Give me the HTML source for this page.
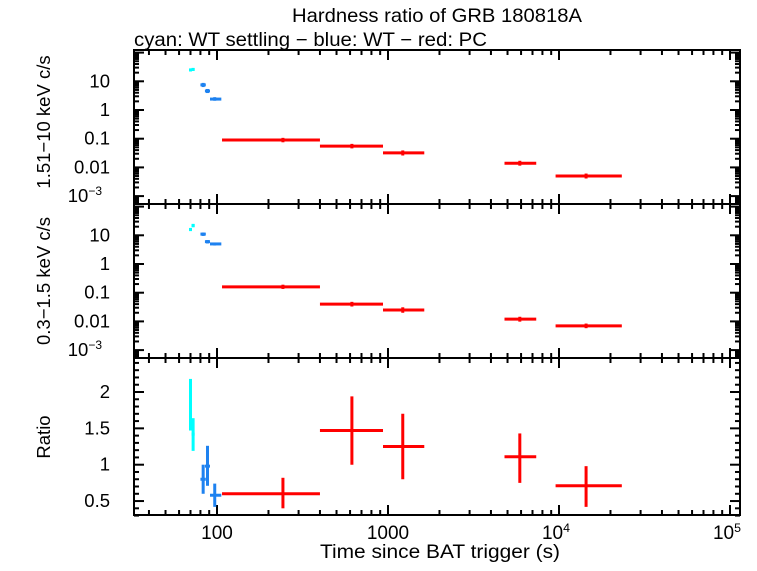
<!DOCTYPE html>
<html><head><meta charset="utf-8"><style>
html,body{margin:0;padding:0;background:#fff;}
svg text{font-family:"Liberation Sans",sans-serif;fill:#000;}
</style></head><body>
<svg id="c" width="757" height="566" xmlns="http://www.w3.org/2000/svg">
<text x="437" y="22" font-size="19.5" text-anchor="middle" textLength="290" lengthAdjust="spacingAndGlyphs">Hardness ratio of GRB 180818A</text>
<text x="134" y="46" font-size="19" textLength="353" lengthAdjust="spacingAndGlyphs">cyan: WT settling − blue: WT − red: PC</text>
<text x="440" y="558" font-size="19" text-anchor="middle" textLength="240" lengthAdjust="spacingAndGlyphs">Time since BAT trigger (s)</text>
<text transform="translate(50,122) rotate(-90)" font-size="18.5" text-anchor="middle">1.51−10 keV c/s</text>
<text transform="translate(50,281) rotate(-90)" font-size="18.5" text-anchor="middle">0.3−1.5 keV c/s</text>
<text transform="translate(50,437) rotate(-90)" font-size="18.5" text-anchor="middle">Ratio</text>
<g id="g"></g>
</svg>
<script>
// data: [t, tlo, thi, val, vlo, vhi, color]
const hardSeries=[[70,69,71,25,22,28,'c'],[72.5,71,74,26,23,29,'c'],[83,80,86,7.5,6.3,8.8,'b'],[88,85,91,4.6,3.9,5.4,'b'],[97,91,106,2.4,2.1,2.8,'b'],
 [243,107,400,0.09,0.075,0.107,'r'],[615,400,935,0.055,0.046,0.066,'r'],[1220,935,1630,0.032,0.026,0.039,'r'],[5900,4800,7360,0.014,0.0115,0.017,'r'],[14400,9550,23300,0.005,0.0041,0.0061,'r']];
const softSeries=[[70,69,71,16,14,18,'c'],[72.5,71,74,22,19,25,'c'],[83,80,86,11,9.5,12.5,'b'],[88,85,91,6,5.2,6.8,'b'],[97,91,106,5,4.4,5.6,'b'],
 [243,107,400,0.16,0.135,0.19,'r'],[615,400,935,0.04,0.033,0.048,'r'],[1220,935,1630,0.025,0.02,0.031,'r'],[5900,4800,7360,0.012,0.0098,0.0145,'r'],[14400,9550,23300,0.007,0.0058,0.0084,'r']];
const ratioSeries=[[70,69,71,1.83,1.47,2.18,'c'],[72.5,71,74,1.42,1.19,1.64,'c'],[83,80,86,0.8,0.6,1.0,'b'],[88,85,91,0.98,0.71,1.26,'b'],[97,91,106,0.58,0.42,0.74,'b'],
 [243,107,400,0.6,0.4,0.82,'r'],[615,400,935,1.47,1.0,1.94,'r'],[1220,935,1630,1.25,0.8,1.7,'r'],[5900,4800,7360,1.11,0.75,1.43,'r'],[14400,9550,23300,0.71,0.42,0.98,'r']];
const xTickBase=['100','1000','10','10'];
const xTickSup=['','','4','5'];
const logTickBase=['10','1','0.1','0.01','10'];
const logTickSup=['','','','','−3'];
const ratioTicks=[0.5,1,1.5,2];
const cols={c:'#00ffff',b:'#1e82f0',r:'#ff0000'};
const L=134,R=740;
const X=t=>217+(Math.log10(t)-2)*171;
const NS='http://www.w3.org/2000/svg';
const g=document.getElementById('g');
function el(tag,a,parent){const e=document.createElementNS(NS,tag);for(const k in a)e.setAttribute(k,a[k]);(parent||g).appendChild(e);return e;}
function label(x,y,base,sup,anchor,size){const tx=el('text',{x:x,y:y,'font-size':size,'text-anchor':anchor});
 tx.appendChild(document.createTextNode(base));
 if(sup){const ts=el('tspan',{dy:-7,'font-size':size*0.65},tx);ts.textContent=sup;}
 return tx;}
const panels=[
 {top:50,bot:204,Y:v=>110-Math.log10(v)*28.7,data:hardSeries,log:true,name:'hard'},
 {top:204,bot:358,Y:v=>264-Math.log10(v)*28.7,data:softSeries,log:true,name:'soft'},
 {top:358,bot:515,Y:v=>392-(v-2)*72.7,data:ratioSeries,log:false,name:'ratio'}];
panels.forEach((p,pi)=>{
 const fr=el('rect',{x:L,y:p.top,width:R-L,height:p.bot-p.top,fill:'none',stroke:'#000','stroke-width':2});
 
 
 for(let d=1;d<=5;d++)for(let m=1;m<10;m++){const t=m*Math.pow(10,d);const x=X(t);if(x<L||x>R)continue;const len=m==1?10:5;
  el('line',{x1:x,x2:x,y1:p.top,y2:p.top+len,stroke:'#000','stroke-width':2});
  el('line',{x1:x,x2:x,y1:p.bot,y2:p.bot-len,stroke:'#000','stroke-width':2});}
 if(p.log){for(let d=-4;d<=2;d++)for(let m=1;m<10;m++){const v=m*Math.pow(10,d);const y=p.Y(v);if(y<p.top||y>p.bot)continue;const len=m==1?10:5;
   el('line',{x1:L,x2:L+len,y1:y,y2:y,stroke:'#000','stroke-width':2});
   el('line',{x1:R,x2:R-len,y1:y,y2:y,stroke:'#000','stroke-width':2});}
  logTickBase.forEach((s,i)=>{const tx=label(L-24+(logTickSup[i]?-8:0),p.Y(Math.pow(10,1-i))+6,s,'', 'end',18.5);
   if(logTickSup[i]){const ts=el('tspan',{dy:-7,'font-size':12},tx);ts.textContent=logTickSup[i];}
   
   });
 }else{for(let v=0.3;v<=2.45;v+=0.1){const y=p.Y(v);const maj=Math.abs(v*2-Math.round(v*2))<0.01;const len=maj?10:5;
   el('line',{x1:L,x2:L+len,y1:y,y2:y,stroke:'#000','stroke-width':2});
   el('line',{x1:R,x2:R-len,y1:y,y2:y,stroke:'#000','stroke-width':2});}
  ratioTicks.forEach(v=>{const tx=el('text',{x:L-24,y:p.Y(v)+6,'font-size':18.5,'text-anchor':'end'});tx.textContent=String(v);
   
   });
 }
 p.data.forEach(d=>{const c=cols[d[6]];const y=p.Y(d[3]);
  const h=el('line',{x1:X(d[1]),x2:X(d[2]),y1:y,y2:y,stroke:c,'stroke-width':3});
  
  
  const v=el('line',{x1:X(d[0]),x2:X(d[0]),y1:p.Y(d[4]),y2:p.Y(d[5]),stroke:c,'stroke-width':3});
  
  });
});
xTickBase.forEach((s,i)=>{const tx=label(X(Math.pow(10,i+2))+(xTickSup[i]?-3:0),539,s,xTickSup[i],'middle',19);
 
 });
</script>
</body></html>
